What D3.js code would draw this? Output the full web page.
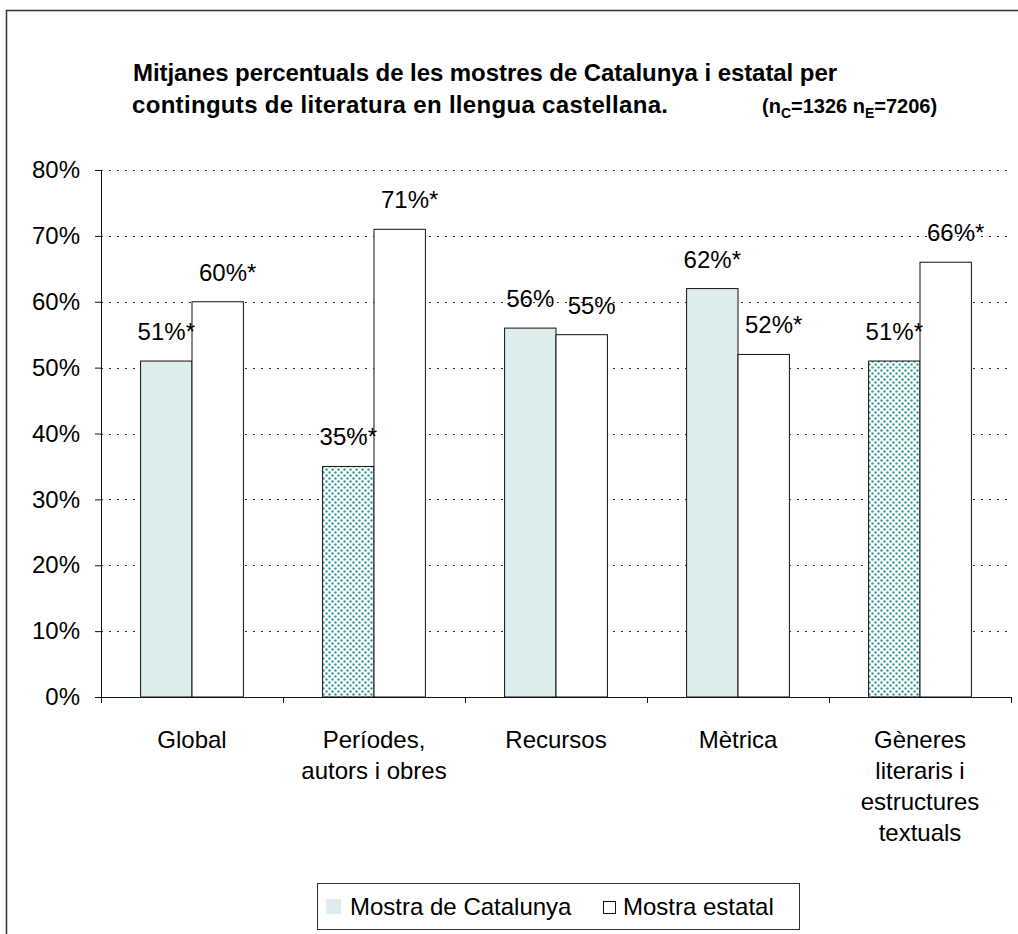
<!DOCTYPE html>
<html>
<head>
<meta charset="utf-8">
<script src="https://cdn.jsdelivr.net/npm/d3@7/dist/d3.min.js"></script>
<style>
  body { margin: 0; background: #fff; }
  svg { display: block; font-family: "Liberation Sans", Arial, sans-serif; }
</style>
</head>
<body>
<svg id="chart"></svg>
<script>
// data
let categories = ["Global", "Períodes,|autors i obres", "Recursos", "Mètrica", "Gèneres|literaris i|estructures|textuals"]
let seriesNames = ["Mostra de Catalunya", "Mostra estatal"]
let catValues = [51, 35, 56, 62, 51]
let estValues = [60, 71, 55, 52, 66]
let catLabels = ["51%*", "35%*", "56%", "62%*", "51%*"]
let estLabels = ["60%*", "71%*", "55%", "52%*", "66%*"]
let catDotted = [false, true, false, false, true]
let yTicks = [0, 10, 20, 30, 40, 50, 60, 70, 80]

let width = 1018
let height = 934
let plotLeft = 101
let plotRight = 1011
let plotTop = 170
let plotBottom = 697
let fontSize = 24

let svg = d3.select("#chart")
    .attr("width", width)
    .attr("height", height)

// dotted pattern for the significant Catalonia bars
let defs = svg.append("defs")
let pat = defs.append("pattern")
    .attr("id", "dots")
    .attr("patternUnits", "userSpaceOnUse")
    .attr("width", 6)
    .attr("height", 6)
pat.append("rect").attr("width", 6).attr("height", 6).attr("fill", "#fff")
pat.append("circle").attr("cx", 1.5).attr("cy", 1.5).attr("r", 1.25).attr("fill", "#359c9c")
pat.append("circle").attr("cx", 4.5).attr("cy", 4.5).attr("r", 1.25).attr("fill", "#359c9c")

// outer frame (runs off the right and bottom edge)
svg.append("rect")
   .attr("x", 6.5)
   .attr("y", 10.5)
   .attr("width", 1100)
   .attr("height", 1000)
   .attr("fill", "none")
   .attr("stroke", "#333")
   .attr("stroke-width", 1.5)

// title
let title = svg.append("g").attr("font-weight", "bold").attr("fill", "#000")
title.append("text")
     .attr("x", 133).attr("y", 81)
     .attr("font-size", 24)
     .attr("textLength", 704)
     .text("Mitjanes percentuals de les mostres de Catalunya i estatal per")
title.append("text")
     .attr("x", 132).attr("y", 113)
     .attr("font-size", 24)
     .attr("textLength", 536)
     .text("continguts de literatura en llengua castellana.")
let nt = title.append("text").attr("x", 762).attr("y", 113).attr("font-size", 20)
nt.append("tspan").text("(n")
nt.append("tspan").attr("font-size", 14).attr("dy", 5).text("C")
nt.append("tspan").attr("dy", -5).text("=1326 n")
nt.append("tspan").attr("font-size", 14).attr("dy", 5).text("E")
nt.append("tspan").attr("dy", -5).text("=7206)")

// scales
let yScale = d3.scaleLinear().domain([0, 80]).range([plotBottom, plotTop])
let xScale = d3.scaleBand().domain(d3.range(categories.length)).range([plotLeft, plotRight])
let xInner = d3.scaleBand().domain([0, 1]).range([0, xScale.bandwidth()]).paddingOuter(0.77)

// gridlines
svg.append("g")
   .selectAll("line")
   .data(yTicks.filter(d => d > 0))
   .enter()
   .append("line")
   .attr("x1", plotLeft).attr("x2", plotRight)
   .attr("y1", d => Math.round(yScale(d)) + 0.5)
   .attr("y2", d => Math.round(yScale(d)) + 0.5)
   .attr("stroke", "#333")
   .attr("stroke-dasharray", "2,6")

// bars
let groups = svg.append("g")
    .selectAll("g")
    .data(categories)
    .enter()
    .append("g")
    .attr("transform", (d, i) => "translate(" + xScale(i) + ",0)")

groups.append("rect")
      .attr("x", xInner(0))
      .attr("width", xInner.bandwidth())
      .attr("y", (d, i) => yScale(catValues[i]))
      .attr("height", (d, i) => plotBottom - yScale(catValues[i]))
      .attr("fill", (d, i) => catDotted[i] ? "url(#dots)" : "#ddeded")
      .attr("stroke", "#111")
      .attr("stroke-width", 1)

groups.append("rect")
      .attr("x", xInner(1))
      .attr("width", xInner.bandwidth())
      .attr("y", (d, i) => yScale(estValues[i]))
      .attr("height", (d, i) => plotBottom - yScale(estValues[i]))
      .attr("fill", "#fff")
      .attr("stroke", "#111")
      .attr("stroke-width", 1)

// value labels
groups.append("text")
      .attr("x", xInner(0) + xInner.bandwidth() / 2)
      .attr("y", (d, i) => yScale(catValues[i]) - 21)
      .attr("text-anchor", "middle")
      .attr("font-size", fontSize)
      .text((d, i) => catLabels[i])

groups.append("text")
      .attr("x", xInner(1) + xInner.bandwidth() / 2 + 10)
      .attr("y", (d, i) => yScale(estValues[i]) - 21)
      .attr("text-anchor", "middle")
      .attr("font-size", fontSize)
      .text((d, i) => estLabels[i])

// axes
let yAxis = d3.axisLeft(yScale).tickValues(yTicks).tickFormat(d => d + "%").tickSize(6).tickPadding(15)
let yG = svg.append("g")
   .attr("transform", "translate(" + plotLeft + ",0)")
   .call(yAxis)
yG.select(".domain").attr("stroke", "#111")
yG.selectAll("line").attr("stroke", "#111")
yG.selectAll("text").attr("font-size", fontSize).attr("font-family", "Liberation Sans, Arial, sans-serif").attr("fill", "#000")

let xEdge = d3.scaleLinear().domain([0, categories.length]).range([plotLeft, plotRight])
let xAxis = d3.axisBottom(xEdge).tickValues(d3.range(categories.length + 1)).tickFormat("").tickSize(6).tickSizeOuter(0)
let xG = svg.append("g")
   .attr("transform", "translate(0," + plotBottom + ")")
   .call(xAxis)
xG.select(".domain").attr("stroke", "#111")
xG.selectAll("line").attr("stroke", "#111")

// category labels
let catText = svg.append("g")
    .selectAll("text")
    .data(categories)
    .enter()
    .append("text")
    .attr("text-anchor", "middle")
    .attr("font-size", fontSize)
    .attr("x", (d, i) => xScale(i) + xScale.bandwidth() / 2)
    .attr("y", 748)

catText.selectAll("tspan")
    .data(d => d.split("|"))
    .enter()
    .append("tspan")
    .attr("x", function () { return d3.select(this.parentNode).attr("x") })
    .attr("dy", (d, i) => i === 0 ? 0 : 31)
    .text(d => d)

// legend
let legend = svg.append("g")
legend.append("rect")
      .attr("x", 317.5).attr("y", 883.5)
      .attr("width", 482).attr("height", 46)
      .attr("fill", "#fff")
      .attr("stroke", "#333")
legend.append("rect")
      .attr("x", 326).attr("y", 899)
      .attr("width", 15).attr("height", 15)
      .attr("fill", "#ddeded")
legend.append("text")
      .attr("x", 350).attr("y", 915)
      .attr("font-size", fontSize)
      .text(seriesNames[0])
legend.append("rect")
      .attr("x", 603.5).attr("y", 901.5)
      .attr("width", 12).attr("height", 12)
      .attr("fill", "#fff")
      .attr("stroke", "#111")
legend.append("text")
      .attr("x", 623).attr("y", 915)
      .attr("font-size", fontSize)
      .text(seriesNames[1])
</script>
</body>
</html>
